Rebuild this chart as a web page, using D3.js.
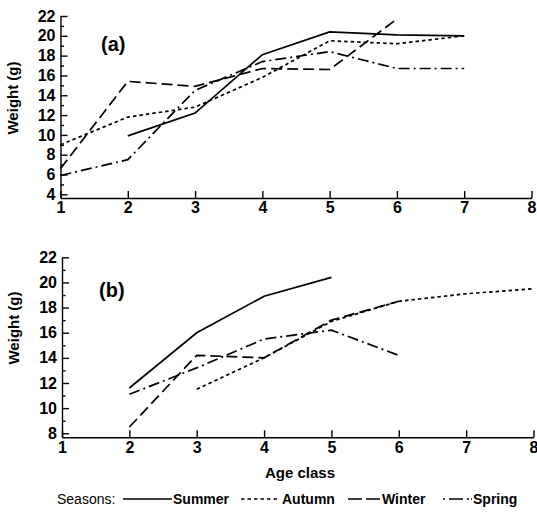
<!DOCTYPE html>
<html>
<head>
<meta charset="utf-8">
<script src="https://cdn.jsdelivr.net/npm/d3@7/dist/d3.min.js"></script>
<style>
    body { margin: 0; background: #fff; }
    svg { display: block; font-family: "Liberation Sans", Arial, Helvetica, sans-serif; }
    .tick text { font-weight: bold; font-size: 16px; fill: #000; }
    .tick line, .domain { stroke: #000; stroke-width: 1.4; }
</style>
</head>
<body>
<svg id="chart" width="537" height="521"></svg>
<script>
// age classes on the x axis
var ages = [1, 2, 3, 4, 5, 6, 7, 8];
var seasons = ["Summer", "Autumn", "Winter", "Spring"];

// panel (a) weights (g) by age class, null = no value
var aSummer = [null, 9.9, 12.2, 18.1, 20.4, 20.1, 20.0];
var aAutumn = [9.0, 11.8, 12.8, 15.8, 19.5, 19.2, 20.0];
var aWinter = [6.6, 15.4, 14.9, 16.7, 16.6, 21.7];
var aSpring = [5.9, 7.5, 14.5, 17.4, 18.4, 16.7, 16.7];

// panel (b)
var bSummer = [null, 11.6, 16.0, 18.9, 20.4];
var bAutumn = [null, null, 11.5, 14.0, 16.9, 18.5, 19.1, 19.5];
var bWinter = [null, 8.5, 14.2, 14.0, 17.0, 18.5];
var bSpring = [null, 11.1, 13.2, 15.5, 16.2, 14.2];

var aTicks = [4, 6, 8, 10, 12, 14, 16, 18, 20, 22];
var bTicks = [8, 10, 12, 14, 16, 18, 20, 22];

var dashes = {
    Summer: null,
    Autumn: "3.5,3",
    Winter: "11,5",
    Spring: "11,4,2,4"
};

var svg = d3.select("#chart");

function panel(opts) {
    var x = d3.scaleLinear().domain([1, 8]).range(opts.xr);
    var y = d3.scaleLinear().domain(opts.yd).range(opts.yr);
    var g = svg.append("g");

    // minor ticks on odd values
    var minor = d3.range(Math.ceil(opts.yd[0]), opts.yd[1], 1).filter(function (v) { return v % 2 == 1; });
    g.append("g")
        .attr("transform", "translate(" + opts.xr[0] + ",0)")
        .call(d3.axisLeft(y).tickValues(minor).tickSize(-3.5).tickFormat(""))
        .select(".domain").remove();

    g.append("g")
        .attr("transform", "translate(" + opts.xr[0] + ",0)")
        .call(d3.axisLeft(y).tickValues(opts.ticks).tickSizeInner(-7).tickSizeOuter(0).tickPadding(5).tickFormat(d3.format("d")));

    g.append("g")
        .attr("transform", "translate(0," + opts.yr[0] + ")")
        .call(d3.axisBottom(x).tickValues(ages).tickSizeInner(-7).tickSizeOuter(0).tickPadding(4).tickFormat(d3.format("d")));

    g.append("text")
        .attr("transform", "translate(" + opts.ylab[0] + "," + opts.ylab[1] + ") rotate(-90)")
        .attr("text-anchor", "middle")
        .attr("font-weight", "bold")
        .attr("font-size", "15px")
        .text("Weight (g)");

    g.append("text")
        .attr("x", opts.tag[0])
        .attr("y", opts.tag[1])
        .attr("font-weight", "bold")
        .attr("font-size", "20px")
        .text(opts.label);

    var line = d3.line()
        .defined(function (d) { return d[1] != null; })
        .x(function (d) { return x(d[0]); })
        .y(function (d) { return y(d[1]); });

    seasons.forEach(function (s, i) {
        var pts = opts.series[i].map(function (v, j) { return [ages[j], v]; });
        g.append("path")
            .datum(pts)
            .attr("fill", "none")
            .attr("stroke", "#000")
            .attr("stroke-width", 1.7)
            .attr("stroke-dasharray", dashes[s])
            .attr("d", line);
    });
}

panel({
    label: "(a)",
    xr: [60.5, 531.5],
    yd: [3.63, 22],
    yr: [198, 16],
    ticks: aTicks,
    ylab: [18, 98],
    tag: [101, 51],
    series: [aSummer, aAutumn, aWinter, aSpring]
});

panel({
    label: "(b)",
    xr: [62, 533.5],
    yd: [7.68, 22],
    yr: [437.3, 257.3],
    ticks: bTicks,
    ylab: [19, 328],
    tag: [99, 297],
    series: [bSummer, bAutumn, bWinter, bSpring]
});

svg.append("text")
    .attr("x", 300)
    .attr("y", 478)
    .attr("text-anchor", "middle")
    .attr("font-weight", "bold")
    .attr("font-size", "15px")
    .text("Age class");

// legend
var legend = svg.append("g").attr("font-size", "14px").attr("font-weight", "bold");
legend.append("text").attr("x", 57).attr("y", 504).attr("font-weight", "normal").text("Seasons:");
var items = [
    { name: "Summer", x0: 123, x1: 172, tx: 173 },
    { name: "Autumn", x0: 241, x1: 280, tx: 282 },
    { name: "Winter", x0: 348, x1: 380, tx: 382 },
    { name: "Spring", x0: 443, x1: 472, tx: 473 }
];
items.forEach(function (d) {
    legend.append("line")
        .attr("x1", d.x0).attr("x2", d.x1)
        .attr("y1", 499).attr("y2", 499)
        .attr("stroke", "#000")
        .attr("stroke-width", 1.4)
        .attr("stroke-dasharray", d.name == "Winter" ? "14,4" : d.name == "Spring" ? "2,4,14,4,2" : dashes[d.name]);
    legend.append("text").attr("x", d.tx).attr("y", 504).text(d.name);
});
</script>
</body>
</html>
